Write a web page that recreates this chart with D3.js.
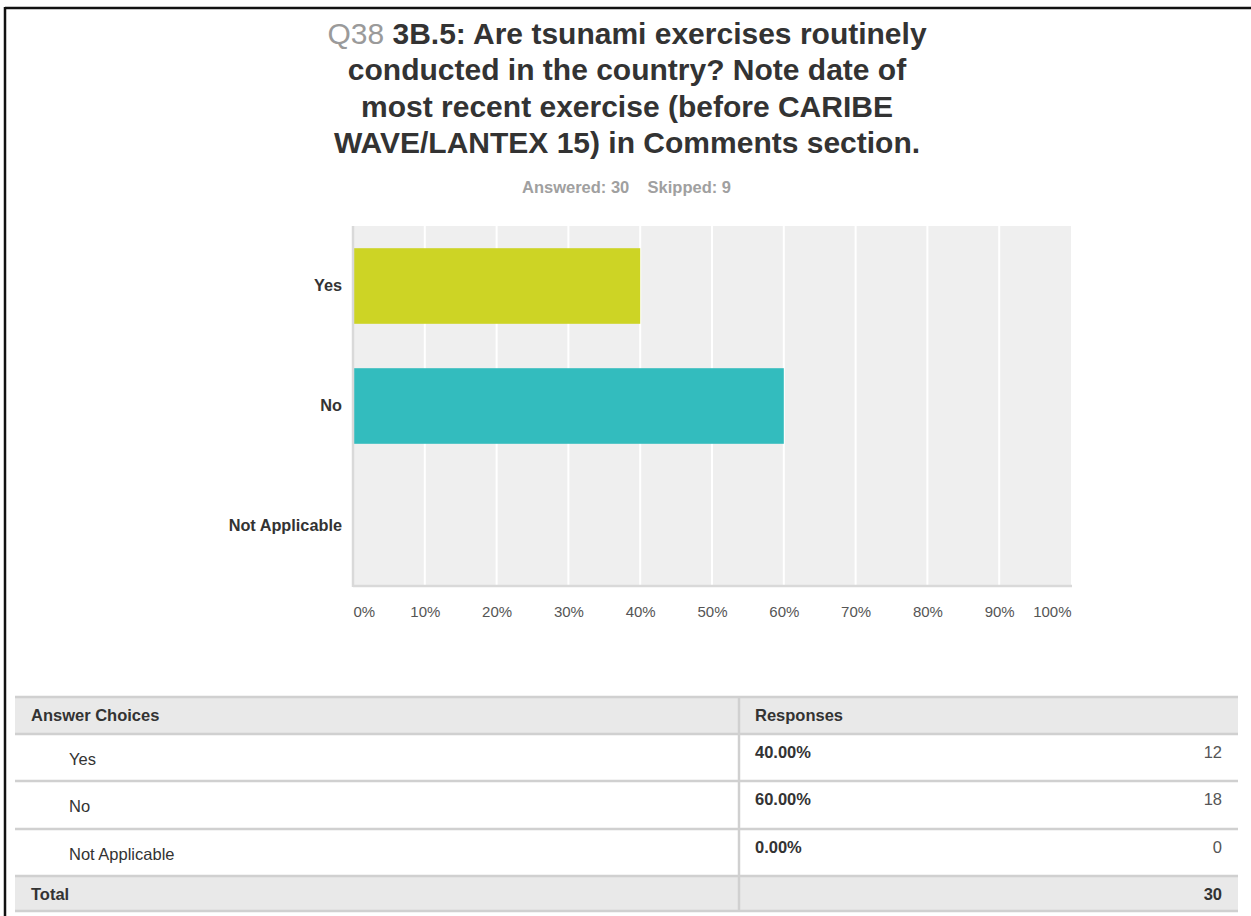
<!DOCTYPE html>
<html>
<head>
<meta charset="utf-8">
<script src="https://cdn.jsdelivr.net/npm/d3@7/dist/d3.min.js"></script>
<style>
  html, body { margin: 0; padding: 0; background: #fff; }
  svg { display: block; }
</style>
</head>
<body>
<svg id="chart" width="1251" height="916"></svg>
<script>
const categories = ["Yes", "No", "Not Applicable"];
const percents = [40, 60, 0];
const counts = [12, 18, 0];
const totalCount = 30;
const answered = 30;
const skipped = 9;
const tickValues = [0, 10, 20, 30, 40, 50, 60, 70, 80, 90, 100];
const tickLabels = ["0%", "10%", "20%", "30%", "40%", "50%", "60%", "70%", "80%", "90%", "100%"];
const barColors = ["#cdd425", "#33bcbe", "#e8655c"];
const titleLines = [
  ["Q38 ", "3B.5: Are tsunami exercises routinely"],
  ["", "conducted in the country? Note date of"],
  ["", "most recent exercise (before CARIBE"],
  ["", "WAVE/LANTEX 15) in Comments section."]
];

const svg = d3.select("#chart");
const FONT = "'Liberation Sans', Arial, Helvetica, sans-serif";

// outer border (top and left visible)
svg.append("line").attr("x1", 5).attr("x2", 1251).attr("y1", 8).attr("y2", 8)
  .attr("stroke", "#111").attr("stroke-width", 2.5);
svg.append("line").attr("x1", 5).attr("x2", 5).attr("y1", 7).attr("y2", 916)
  .attr("stroke", "#111").attr("stroke-width", 2.5);

// title
const title = svg.append("text").attr("text-anchor", "middle")
  .attr("font-family", FONT).attr("font-size", 30).attr("font-weight", "bold");
titleLines.forEach((ln, i) => {
  const t = title.append("tspan").attr("x", 627).attr("y", 44 + i * 36.3);
  if (ln[0]) t.append("tspan").attr("fill", "#9a9a9a").attr("font-weight", "normal").text(ln[0]);
  t.append("tspan").attr("fill", "#333").text(ln[1]);
});

svg.append("text").attr("x", 522).attr("y", 193)
  .attr("font-family", FONT).attr("font-size", 16.5).attr("font-weight", "bold")
  .attr("fill", "#a0a0a0").text(`Answered: ${answered}`);
svg.append("text").attr("x", 731).attr("y", 193).attr("text-anchor", "end")
  .attr("font-family", FONT).attr("font-size", 16.5).attr("font-weight", "bold")
  .attr("fill", "#a0a0a0").text(`Skipped: ${skipped}`);

// plot
const plot = { left: 353, right: 1071, top: 226, bottom: 586 };
const x = d3.scaleLinear().domain([0, 100]).range([plot.left, plot.right]);
const y = d3.scaleBand().domain(categories).range([plot.top, plot.bottom])
  .paddingInner(0.37).paddingOuter(0.185);

const g = svg.append("g");
g.append("rect").attr("x", plot.left).attr("y", plot.top)
  .attr("width", plot.right - plot.left).attr("height", plot.bottom - plot.top)
  .attr("fill", "#efefef");

g.selectAll(".grid").data(tickValues.slice(1, -1)).join("line")
  .attr("x1", d => x(d)).attr("x2", d => x(d))
  .attr("y1", plot.top).attr("y2", plot.bottom)
  .attr("stroke", "#fff").attr("stroke-width", 2);

g.selectAll(".bar").data(categories).join("rect")
  .attr("x", x(0))
  .attr("y", d => y(d))
  .attr("width", (d, i) => x(percents[i]) - x(0))
  .attr("height", y.bandwidth())
  .attr("fill", (d, i) => barColors[i]);

// axis lines
g.append("line").attr("x1", plot.left).attr("x2", plot.left)
  .attr("y1", plot.top).attr("y2", plot.bottom + 1)
  .attr("stroke", "#d9d9d9").attr("stroke-width", 2.5);
g.append("line").attr("x1", plot.left).attr("x2", plot.right + 1)
  .attr("y1", plot.bottom).attr("y2", plot.bottom)
  .attr("stroke", "#d9d9d9").attr("stroke-width", 2.5);

// category labels via axis
const yAxis = g.append("g").attr("transform", `translate(${plot.left - 11},0)`)
  .call(d3.axisLeft(y).tickSize(0).tickPadding(0));
yAxis.select(".domain").remove();
yAxis.selectAll("text").attr("font-family", FONT).attr("font-size", 16.3)
  .attr("font-weight", "bold").attr("fill", "#333");

// x tick labels via axis
const xAxis = g.append("g").attr("transform", `translate(0,${plot.bottom})`)
  .call(d3.axisBottom(x).tickValues(tickValues).tickSize(0).tickPadding(20)
    .tickFormat((d, i) => tickLabels[i]));
xAxis.select(".domain").remove();
xAxis.selectAll("text").attr("font-family", FONT).attr("font-size", 15)
  .attr("fill", "#555")
  .attr("text-anchor", (d, i) => i === 0 ? "start" : (i === tickValues.length - 1 ? "end" : "middle"));

// table
const tbl = { left: 15, right: 1238, div: 739 };
const rowsY = [697, 734, 781, 829, 876, 911];
const FS = 16.5;
const tg = svg.append("g").attr("font-family", FONT);
tg.append("rect").attr("x", tbl.left).attr("y", rowsY[0]).attr("width", tbl.right - tbl.left)
  .attr("height", rowsY[1] - rowsY[0]).attr("fill", "#e9e9e9");
tg.append("rect").attr("x", tbl.left).attr("y", rowsY[4]).attr("width", tbl.right - tbl.left)
  .attr("height", rowsY[5] - rowsY[4]).attr("fill", "#e9e9e9");
rowsY.forEach(yy => {
  tg.append("line").attr("x1", tbl.left).attr("x2", tbl.right).attr("y1", yy).attr("y2", yy)
    .attr("stroke", "#d0d0d0").attr("stroke-width", 2.5);
});
tg.append("line").attr("x1", tbl.div).attr("x2", tbl.div).attr("y1", rowsY[0]).attr("y2", rowsY[5])
  .attr("stroke", "#d0d0d0").attr("stroke-width", 2.5);

tg.append("text").attr("x", 31).attr("y", 721).attr("font-size", FS).attr("font-weight", "bold")
  .attr("fill", "#333").text("Answer Choices");
tg.append("text").attr("x", 755).attr("y", 721).attr("font-size", FS).attr("font-weight", "bold")
  .attr("fill", "#333").text("Responses");

categories.forEach((c, i) => {
  const top = rowsY[i + 1];
  tg.append("text").attr("x", 69).attr("y", top + 31).attr("font-size", FS)
    .attr("fill", "#333").text(c);
  tg.append("text").attr("x", 755).attr("y", top + 24).attr("font-size", FS)
    .attr("font-weight", "bold").attr("fill", "#333").text(percents[i].toFixed(2) + "%");
  tg.append("text").attr("x", 1222).attr("y", top + 24).attr("font-size", FS)
    .attr("text-anchor", "end").attr("fill", "#555").text(counts[i]);
});
tg.append("text").attr("x", 31).attr("y", 900).attr("font-size", FS).attr("font-weight", "bold")
  .attr("fill", "#333").text("Total");
tg.append("text").attr("x", 1222).attr("y", 900).attr("font-size", FS).attr("font-weight", "bold")
  .attr("text-anchor", "end").attr("fill", "#333").text(totalCount);
</script>
</body>
</html>
